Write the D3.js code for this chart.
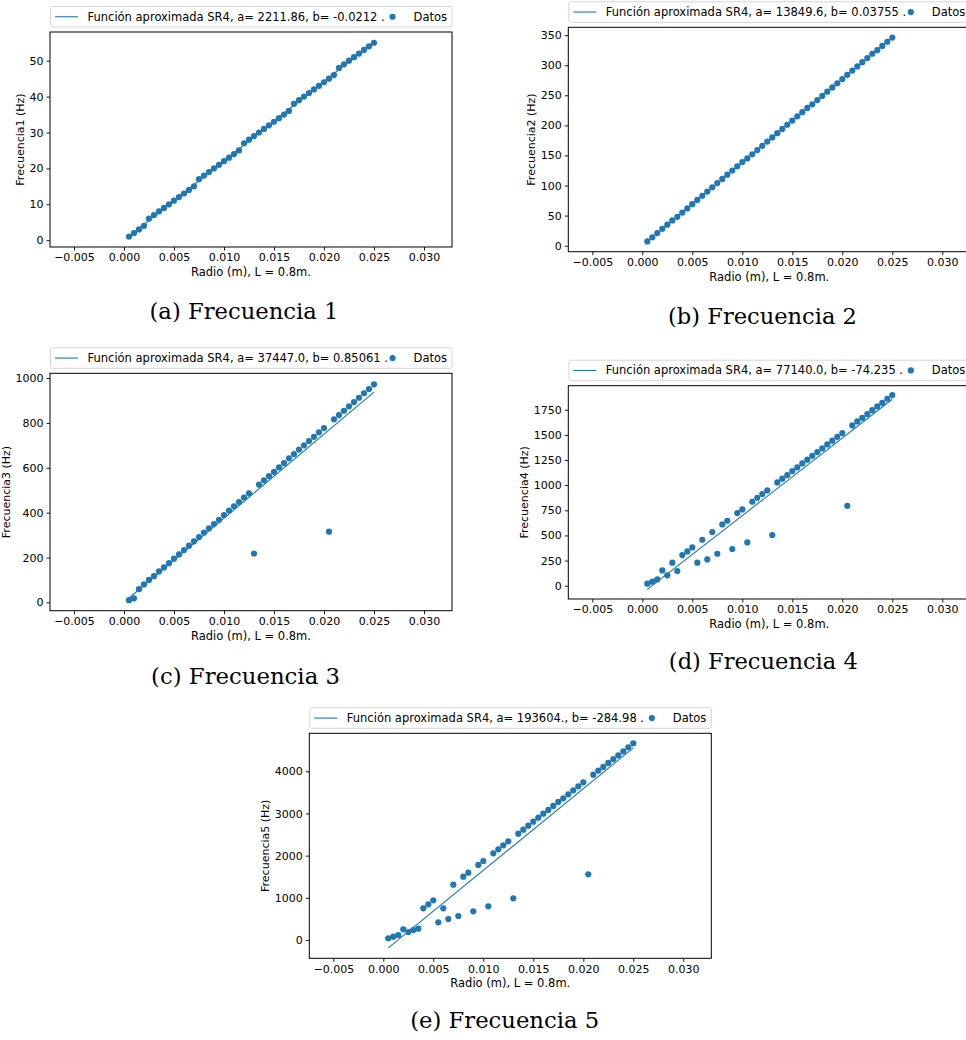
<!DOCTYPE html>
<html>
<head>
<meta charset="utf-8">
<script src="https://cdn.jsdelivr.net/npm/d3@7"></script>
<style>
  html, body { margin: 0; padding: 0; background: #fff; }
  svg { display: block; }
  text { font-family: "DejaVu Sans", sans-serif; fill: #000; }
  .caption { font-family: "DejaVu Serif", serif; }
</style>
</head>
<body>
<svg id="fig" width="966" height="1040"></svg>
<script>
// Radios medidos (m)
const radio = [
  0.0005, 0.0010, 0.0015, 0.0020, 0.0025, 0.0030, 0.0035, 0.0040, 0.0045, 0.0050,
  0.0055, 0.0060, 0.0065, 0.0070, 0.0075, 0.0080, 0.0085, 0.0090, 0.0095, 0.0100,
  0.0105, 0.0110, 0.0115, 0.0120, 0.0125, 0.0130, 0.0135, 0.0140, 0.0145, 0.0150,
  0.0155, 0.0160, 0.0165, 0.0170, 0.0175, 0.0180, 0.0185, 0.0190, 0.0195, 0.0200,
  0.0205, 0.0210, 0.0215, 0.0220, 0.0225, 0.0230, 0.0235, 0.0240, 0.0245, 0.0250
];

// Frecuencias medidas (Hz) para cada modo
const frecuencia1 = [
  1, 2, 3, 4, 6, 7, 8, 9, 10, 11,
  12, 13, 14, 15, 17, 18, 19, 20, 21, 22,
  23, 24, 25, 27, 28, 29, 30, 31, 32, 33,
  34, 35, 36, 38, 39, 40, 41, 42, 43, 44,
  45, 46, 48, 49, 50, 51, 52, 53, 54, 55
];
const frecuencia2 = [
  7, 14, 21, 28, 35, 42, 48, 55, 62, 69,
  76, 83, 90, 97, 104, 111, 118, 125, 132, 139,
  145, 152, 159, 166, 173, 180, 187, 194, 201, 208,
  215, 222, 229, 235, 242, 249, 256, 263, 270, 277,
  284, 291, 298, 305, 312, 319, 325, 332, 339, 346
];
const frecuencia3 = [
  10, 18, 59, 80, 100, 117, 138, 156, 175, 195,
  214, 233, 253, 272, 291, 311, 330, 349, 368, 389,
  409, 428, 447, 467, 486, 218, 525, 544, 563, 582,
  602, 621, 642, 661, 681, 700, 719, 738, 758, 777,
  315, 816, 835, 854, 874, 893, 912, 932, 951, 972
];
const frecuencia4 = [
  20, 40, 63, 152, 103, 229, 146, 305, 341, 381,
  229, 457, 262, 534, 318, 610, 646, 365, 722, 759,
  431, 835, 875, 911, 948, 504, 1027, 1064, 1100, 1140,
  1176, 1216, 1253, 1292, 1329, 1365, 1405, 1442, 1481, 1518,
  795, 1594, 1634, 1670, 1707, 1746, 1783, 1819, 1859, 1896
];
const frecuencia5 = [
  40, 79, 119, 253, 190, 237, 269, 751, 846, 941,
  419, 751, 498, 1312, 569, 1502, 1597, 680, 1779, 1873,
  798, 2055, 2150, 2245, 2340, 988, 2522, 2617, 2711, 2806,
  2901, 2996, 3083, 3178, 3273, 3360, 3454, 3549, 3644, 3739,
  1557, 3921, 4016, 4103, 4198, 4292, 4379, 4474, 4569, 4664
];

// Parámetros del ajuste lineal f = a·r + b
const ajusteA = [2211.86, 13849.6, 37447.0, 77140.0, 193604.0];
const ajusteB = [-0.0212, 0.03755, 0.85061, -74.235, -284.98];
const etiquetasAjuste = [
  "Función aproximada SR4, a= 2211.86, b= -0.0212 .",
  "Función aproximada SR4, a= 13849.6, b= 0.03755 .",
  "Función aproximada SR4, a= 37447.0, b= 0.85061 .",
  "Función aproximada SR4, a= 77140.0, b= -74.235 .",
  "Función aproximada SR4, a= 193604., b= -284.98 ."
];
const etiquetaDatos = "Datos";
const etiquetasY = ["Frecuencia1 (Hz)", "Frecuencia2 (Hz)", "Frecuencia3 (Hz)", "Frecuencia4 (Hz)", "Frecuencia5 (Hz)"];
const etiquetaX = "Radio (m), L = 0.8m.";
const subtitulos = ["(a) Frecuencia 1", "(b) Frecuencia 2", "(c) Frecuencia 3", "(d) Frecuencia 4", "(e) Frecuencia 5"];

// Marcas de los ejes
const ticksX = [-0.005, 0.000, 0.005, 0.010, 0.015, 0.020, 0.025, 0.030];
const ticksY = [
  [0, 10, 20, 30, 40, 50],
  [0, 50, 100, 150, 200, 250, 300, 350],
  [0, 200, 400, 600, 800, 1000],
  [0, 250, 500, 750, 1000, 1250, 1500, 1750],
  [0, 1000, 2000, 3000, 4000]
];
const dominioX = [-0.0074, 0.0328];
const dominiosY = [
  [-1.9, 58.0],
  [-10, 363],
  [-37, 1021],
  [-132, 1989],
  [-434, 4901]
];

const frecuencias = [frecuencia1, frecuencia2, frecuencia3, frecuencia4, frecuencia5];

// Posición de cada subfigura en la página
const paneles = [
  { left: 50,    top: 32,    width: 402, height: 215,   cap: [244, 319] },
  { left: 568.3, top: 27.3,  width: 402, height: 224.4, cap: [762.5, 324] },
  { left: 50,    top: 373.3, width: 402, height: 237.4, cap: [245.5, 684] },
  { left: 568.3, top: 385.7, width: 402, height: 213.3, cap: [763.3, 669] },
  { left: 309.3, top: 733.3, width: 402, height: 225,   cap: [504.7, 1028] }
];

const azul = "#1f77b4";
const svg = d3.select("#fig");
const fmtX = d3.format(".3f");
const anchoSubtitulo = 189;

paneles.forEach((p, i) => {
  const g = svg.append("g");
  const x = d3.scaleLinear().domain(dominioX).range([p.left, p.left + p.width]);
  const y = d3.scaleLinear().domain(dominiosY[i]).range([p.top + p.height, p.top]);

  const clipId = "clip" + i;
  g.append("clipPath").attr("id", clipId)
    .append("rect").attr("x", p.left).attr("y", p.top).attr("width", p.width).attr("height", p.height);

  // Línea del ajuste
  const puntosAjuste = [radio[0], radio[radio.length - 1]].map(r => [r, ajusteA[i] * r + ajusteB[i]]);
  g.append("path")
    .attr("clip-path", `url(#${clipId})`)
    .attr("d", d3.line().x(d => x(d[0])).y(d => y(d[1]))(puntosAjuste))
    .attr("fill", "none").attr("stroke", azul).attr("stroke-width", 1.1);

  // Datos medidos
  g.append("g").attr("clip-path", `url(#${clipId})`)
    .selectAll("circle").data(radio).join("circle")
    .attr("cx", (r) => x(r))
    .attr("cy", (r, k) => y(frecuencias[i][k]))
    .attr("r", 3.1)
    .attr("fill", azul);

  // Ejes
  const ejeX = d3.axisBottom(x).tickValues(ticksX).tickFormat(fmtX).tickSize(3.5).tickPadding(3);
  const gx = g.append("g").attr("transform", `translate(0,${p.top + p.height})`).call(ejeX);
  const ejeY = d3.axisLeft(y).tickValues(ticksY[i]).tickFormat(d3.format("d")).tickSize(3.5).tickPadding(3);
  const gy = g.append("g").attr("transform", `translate(${p.left},0)`).call(ejeY);
  [gx, gy].forEach(ax => {
    ax.select(".domain").remove();
    ax.selectAll("line").attr("stroke", "#000").attr("stroke-width", 0.9);
    ax.selectAll("text").attr("font-size", 11).attr("font-family", "DejaVu Sans").attr("fill", "#000");
  });

  // Marco
  g.append("rect")
    .attr("x", p.left).attr("y", p.top).attr("width", p.width).attr("height", p.height)
    .attr("fill", "none").attr("stroke", "#000").attr("stroke-width", 1);

  // Etiquetas de los ejes
  g.append("text")
    .attr("x", p.left + p.width / 2).attr("y", p.top + p.height + 29)
    .attr("text-anchor", "middle").attr("font-size", 11.5)
    .text(etiquetaX);

  let anchoTicks = 0;
  gy.selectAll("text").each(function () { anchoTicks = Math.max(anchoTicks, this.getComputedTextLength()); });
  const xEtiquetaY = p.left - 7 - anchoTicks - 5;
  g.append("text")
    .attr("transform", `translate(${xEtiquetaY},${p.top + p.height / 2}) rotate(-90)`)
    .attr("text-anchor", "middle").attr("font-size", 11)
    .text(etiquetasY[i]);

  // Leyenda sobre el área de trazado
  const lh = 20.5;
  const ly = p.top - 5 - lh;
  const lg = g.append("g");
  lg.append("rect")
    .attr("x", p.left + 0.5).attr("y", ly).attr("width", p.width - 0.5).attr("height", lh)
    .attr("rx", 2).attr("fill", "#fff").attr("fill-opacity", 0.8)
    .attr("stroke", "#d0d0d0").attr("stroke-width", 0.9);
  const cy = ly + lh / 2;
  lg.append("line")
    .attr("x1", p.left + 5).attr("x2", p.left + 28).attr("y1", cy).attr("y2", cy)
    .attr("stroke", azul).attr("stroke-width", 1.1);
  lg.append("text")
    .attr("x", p.left + 37.5).attr("y", cy + 4).attr("font-size", 11.5)
    .text(etiquetasAjuste[i]);
  const tDatos = lg.append("text")
    .attr("x", p.left + p.width - 5).attr("y", cy + 4)
    .attr("text-anchor", "end").attr("font-size", 11.5)
    .text(etiquetaDatos);
  const anchoDatos = tDatos.node().getComputedTextLength();
  lg.append("circle")
    .attr("cx", p.left + p.width - 5 - anchoDatos - 21).attr("cy", cy)
    .attr("r", 3.1).attr("fill", azul);

  // Subtítulo de la subfigura, con el tamaño ajustado a su ancho
  const cap = svg.append("text")
    .attr("class", "caption")
    .attr("x", p.cap[0]).attr("y", p.cap[1])
    .attr("text-anchor", "middle").attr("font-size", 21)
    .text(subtitulos[i]);
  const w = cap.node().getComputedTextLength();
  cap.attr("font-size", Math.min(24, 21 * anchoSubtitulo / w));
});
</script>
</body>
</html>
